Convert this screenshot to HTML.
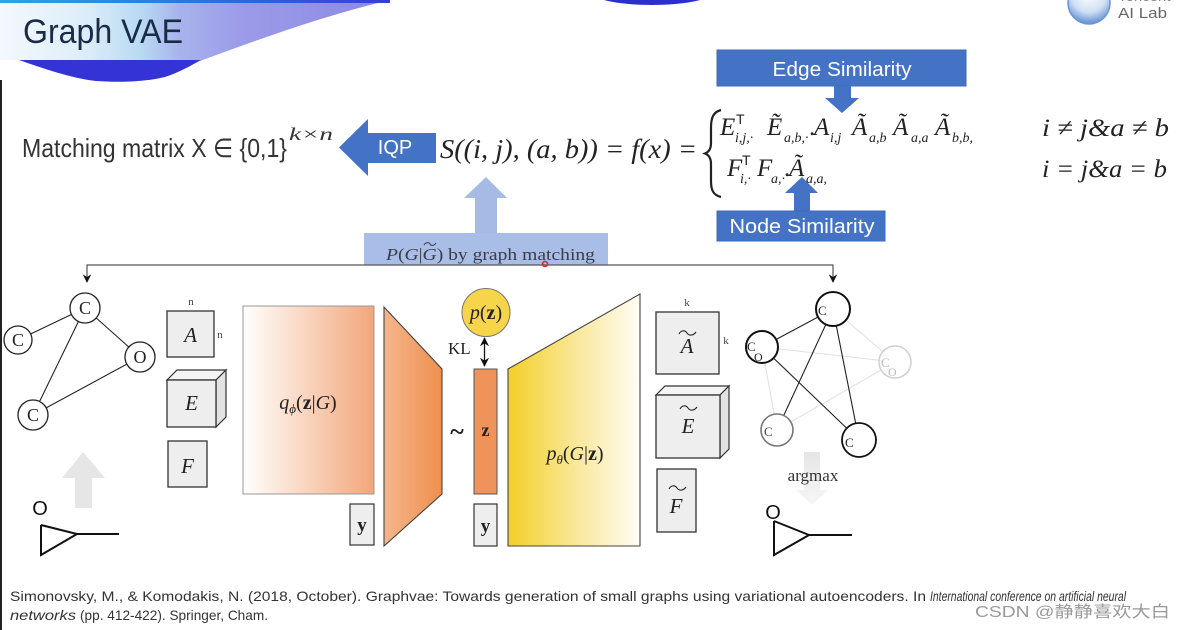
<!DOCTYPE html>
<html>
<head>
<meta charset="utf-8">
<style>
  html,body{margin:0;padding:0;background:#fff;}
  body{width:1182px;height:630px;overflow:hidden;}
  svg{display:block;}
  .serif{font-family:"Liberation Serif",serif;}
  .it{font-family:"Liberation Serif",serif;font-style:italic;}
  .sans{font-family:"Liberation Sans",sans-serif;}
</style>
</head>
<body>
<svg width="1182" height="630" viewBox="0 0 1182 630" xmlns="http://www.w3.org/2000/svg">
  <defs>
    <linearGradient id="band" x1="0" y1="0" x2="390" y2="0" gradientUnits="userSpaceOnUse">
      <stop offset="0" stop-color="#f3f9fd"/>
      <stop offset="0.22" stop-color="#dcedf9"/>
      <stop offset="0.36" stop-color="#b9daf4"/>
      <stop offset="0.46" stop-color="#a7b3ec"/>
      <stop offset="0.62" stop-color="#9b9be8"/>
      <stop offset="1" stop-color="#8c88e4"/>
    </linearGradient>
    <linearGradient id="strip" x1="0" y1="0" x2="390" y2="0" gradientUnits="userSpaceOnUse">
      <stop offset="0" stop-color="#2aa6e4"/>
      <stop offset="1" stop-color="#3340d0"/>
    </linearGradient>
    <radialGradient id="logo" cx="0.5" cy="0.3" r="0.7">
      <stop offset="0" stop-color="#ffffff"/>
      <stop offset="0.6" stop-color="#cfe0f4"/>
      <stop offset="1" stop-color="#5f8fd2"/>
    </radialGradient>
    <linearGradient id="qgrad" x1="0" y1="0" x2="1" y2="0">
      <stop offset="0" stop-color="#ffffff"/>
      <stop offset="0.35" stop-color="#fbe0cf"/>
      <stop offset="1" stop-color="#f2a67b"/>
    </linearGradient>
    <linearGradient id="encgrad" x1="0" y1="0" x2="1" y2="0">
      <stop offset="0" stop-color="#f5b68c"/>
      <stop offset="1" stop-color="#ef8f4e"/>
    </linearGradient>
    <linearGradient id="decgrad" x1="0" y1="0" x2="1" y2="0">
      <stop offset="0" stop-color="#f4cf27"/>
      <stop offset="0.5" stop-color="#f9e796"/>
      <stop offset="1" stop-color="#fffdf6"/>
    </linearGradient>
    <linearGradient id="downfade" x1="0" y1="0" x2="0" y2="1">
      <stop offset="0" stop-color="#e6e6e6"/>
      <stop offset="1" stop-color="#f6f6f6"/>
    </linearGradient>
    <marker id="ah" viewBox="0 0 10 10" refX="9" refY="5" markerWidth="7" markerHeight="7" orient="auto-start-reverse">
      <path d="M0,0 L10,5 L0,10 L3,5 Z" fill="#111"/>
    </marker>
  </defs>

  <!-- Header -->
  <path d="M0,0 H390 C330,14 262,38 200,61 L200,60 H0 Z" fill="url(#band)"/>
  <rect x="0" y="0" width="390" height="3" fill="url(#strip)"/>
  <path d="M19,60 H201 C190,66 180,72 165,77 C140,83 112,82 96,81 C70,78 42,68 19,60 Z" fill="#3434d6"/>
  <ellipse cx="652" cy="-6" rx="57" ry="11" fill="#2b30cc"/>
  <text x="23" y="43" class="sans" font-size="34" fill="#1c2b45" textLength="160" lengthAdjust="spacingAndGlyphs">Graph VAE</text>

  <!-- Logo -->
  <circle cx="1089" cy="3" r="21" fill="url(#logo)" stroke="#6d95d4" stroke-width="1.5"/>
  <text x="1118" y="1" class="sans" font-size="15" fill="#888">Tencent</text>
  <text x="1118" y="18" class="sans" font-size="15" fill="#666" textLength="49" lengthAdjust="spacingAndGlyphs">AI Lab</text>

  <!-- left border line -->
  <rect x="0" y="80" width="2" height="550" fill="#222"/>

  <!-- Edge Similarity -->
  <rect x="717" y="50" width="249" height="36" fill="#4472c4" stroke="#3d68b6" stroke-width="1"/>
  <text x="842" y="76" class="sans" font-size="20" fill="#fff" text-anchor="middle" textLength="139" lengthAdjust="spacingAndGlyphs">Edge Similarity</text>

  <!-- Matching matrix -->
  <text x="22" y="157" class="sans" font-size="26" fill="#333" textLength="265" lengthAdjust="spacingAndGlyphs">Matching matrix X ∈ {0,1}</text>
  <text x="289" y="140" class="it" font-size="18" fill="#333" textLength="44" lengthAdjust="spacingAndGlyphs">k×n</text>

  <!-- IQP arrow -->
  <polygon points="339,147.5 368,119 368,133 436,133 436,163 368,163 368,176" fill="#4472c4"/>
  <text x="395" y="154" class="sans" font-size="20" fill="#fff" text-anchor="middle">IQP</text>

  <!-- S formula -->
  <text x="440" y="158" class="it" font-size="27" fill="#222" textLength="257" lengthAdjust="spacingAndGlyphs">S((i, j), (a, b)) = f(x) =</text>

  <!-- brace -->
  <path d="M721,110 C713,112 711,118 711,128 L711,143 C711,149 709,152 705,153.5 C709,155 711,158 711,164 L711,181 C711,190 713,195 721,197" fill="none" stroke="#222" stroke-width="2.2"/>

  <!-- Line 1 -->
  <g class="it" fill="#222">
    <text x="720" y="135" font-size="25">E</text>
    <text x="736" y="124" class="sans" font-size="14" font-style="normal">T</text>
    <text x="735" y="142" font-size="14">i,j,·</text>
    <text x="767" y="135" font-size="25">Ẽ</text>
    <text x="784" y="142" font-size="14">a,b,·</text>
    <text x="809" y="135" font-size="25" font-style="normal">.</text>
    <text x="814" y="135" font-size="25">A</text>
    <text x="830" y="142" font-size="14">i,j</text>
    <text x="852" y="135" font-size="25">Ã</text>
    <text x="869" y="142" font-size="14">a,b</text>
    <text x="893" y="135" font-size="25">Ã</text>
    <text x="911" y="142" font-size="14">a,a</text>
    <text x="935" y="135" font-size="25">Ã</text>
    <text x="952" y="142" font-size="14">b,b,</text>
  </g>
  <!-- Line 2 -->
  <g class="it" fill="#222">
    <text x="727" y="176" font-size="25">F</text>
    <text x="742" y="165" class="sans" font-size="14" font-style="normal">T</text>
    <text x="740" y="183" font-size="14">i,·</text>
    <text x="757" y="176" font-size="25">F</text>
    <text x="771" y="183" font-size="14">a,·</text>
    <text x="784" y="176" font-size="25" font-style="normal">.</text>
    <text x="789" y="176" font-size="25">Ã</text>
    <text x="806" y="183" font-size="14">a,a,</text>
  </g>
  <!-- Conditions -->
  <text x="1042" y="136" class="it" font-size="25" fill="#222" textLength="127" lengthAdjust="spacingAndGlyphs">i ≠ j&amp;a ≠ b</text>
  <text x="1042" y="177" class="it" font-size="25" fill="#222" textLength="125" lengthAdjust="spacingAndGlyphs">i = j&amp;a = b</text>

  <!-- Edge arrow -->
  <polygon points="842,113 859,98 851,98 851,86 834,86 834,98 825,98" fill="#4472c4"/>

  <!-- Node Similarity -->
  <polygon points="802,177 818,193 810,193 810,211 794,211 794,193 785,193" fill="#4472c4"/>
  <rect x="717" y="211" width="168" height="30" fill="#4472c4" stroke="#3d68b6" stroke-width="1"/>
  <text x="802" y="233" class="sans" font-size="20" fill="#fff" text-anchor="middle" textLength="145" lengthAdjust="spacingAndGlyphs">Node Similarity</text>

  <!-- Light blue up arrow & box -->
  <polygon points="486,177 507,198 497,198 497,233 475,233 475,198 464,198" fill="#a6bbe4"/>
  <rect x="364" y="233" width="244" height="32" fill="#a8bee6"/>
  <text x="386" y="260" class="serif" font-size="17" fill="#3c3c48" textLength="209" lengthAdjust="spacingAndGlyphs"><tspan font-style="italic">P</tspan>(<tspan font-style="italic">G</tspan>|<tspan font-style="italic">G</tspan>) by graph matching</text>
  <path d="M424,245 C426,242 429,242 430,244 C431,246 434,246 436,243" fill="none" stroke="#3c3c48" stroke-width="1"/>

  <!-- connector -->
  <polyline points="87,282 87,265 833,265 833,282" fill="none" stroke="#555" stroke-width="1.2" marker-start="url(#ah)" marker-end="url(#ah)"/>
  <!-- small red dot -->
  <circle cx="545" cy="264" r="2.5" fill="none" stroke="#e0202a" stroke-width="1.5"/>

  <!-- Left graph -->
  <g stroke="#222" stroke-width="1.1">
    <line x1="85" y1="308" x2="18" y2="340"/>
    <line x1="85" y1="308" x2="140" y2="357"/>
    <line x1="85" y1="308" x2="33" y2="415"/>
    <line x1="140" y1="357" x2="33" y2="415"/>
  </g>
  <g fill="#fff" stroke="#222" stroke-width="1.3">
    <circle cx="85" cy="308" r="15"/>
    <circle cx="18" cy="340" r="14"/>
    <circle cx="140" cy="357" r="15"/>
    <circle cx="33" cy="415" r="15"/>
  </g>
  <g class="serif" font-size="18" fill="#222" text-anchor="middle">
    <text x="85" y="314">C</text>
    <text x="18" y="346">C</text>
    <text x="140" y="363">O</text>
    <text x="33" y="421">C</text>
  </g>

  <!-- left gray up arrow -->
  <polygon points="83,452 105,478 92,478 92,508 75,508 75,478 62,478" fill="#e6e6e6"/>
  <!-- left molecule -->
  <text x="40" y="515" class="sans" font-size="20" fill="#111" text-anchor="middle">O</text>
  <g stroke="#111" stroke-width="2" fill="none">
    <polyline points="41,525 41,555 77,534 41,525"/>
    <line x1="77" y1="534" x2="119" y2="534"/>
  </g>

  <!-- Matrices left -->
  <text x="191" y="305" class="serif" font-size="11" fill="#444" text-anchor="middle">n</text>
  <text x="220" y="338" class="serif" font-size="11" fill="#444" text-anchor="middle">n</text>
  <rect x="167" y="311" width="47" height="46" fill="#eeeeee" stroke="#333" stroke-width="1.3"/>
  <text x="190.5" y="342" class="it" font-size="21" fill="#222" text-anchor="middle">A</text>

  <polygon points="167,380 177,370 226,370 216,380" fill="#f5f5f5" stroke="#333" stroke-width="1.2"/>
  <polygon points="216,380 226,370 226,417 216,427" fill="#e2e2e2" stroke="#333" stroke-width="1.2"/>
  <rect x="167" y="380" width="49" height="47" fill="#eeeeee" stroke="#333" stroke-width="1.3"/>
  <text x="191.5" y="410" class="it" font-size="21" fill="#222" text-anchor="middle">E</text>

  <rect x="168" y="441" width="39" height="46" fill="#eeeeee" stroke="#333" stroke-width="1.3"/>
  <text x="187.5" y="473" class="it" font-size="21" fill="#222" text-anchor="middle">F</text>

  <!-- q box -->
  <rect x="243" y="306" width="131" height="188" fill="url(#qgrad)" stroke="#999" stroke-width="1"/>
  <text x="308" y="409" class="serif" font-size="20" fill="#222" text-anchor="middle"><tspan font-style="italic">q</tspan><tspan font-size="13" font-style="italic" dy="4">ϕ</tspan><tspan dy="-4">(</tspan><tspan font-weight="bold">z</tspan>|<tspan font-style="italic">G</tspan>)</text>
  <rect x="350" y="504" width="24" height="41" fill="#eeeeee" stroke="#333" stroke-width="1.2"/>
  <text x="362" y="531" class="serif" font-size="19" font-weight="bold" fill="#222" text-anchor="middle">y</text>

  <!-- encoder trapezoid -->
  <polygon points="384,307 442,369 442,494 384,546" fill="url(#encgrad)" stroke="#444" stroke-width="1.1"/>

  <!-- p(z) -->
  <circle cx="486" cy="312.5" r="24" fill="#f7d54a" stroke="#777" stroke-width="1"/>
  <text x="486" y="319" class="serif" font-size="20" fill="#222" text-anchor="middle"><tspan font-style="italic">p</tspan>(<tspan font-weight="bold">z</tspan>)</text>
  <text x="448" y="354" class="serif" font-size="17" fill="#222">KL</text>
  <line x1="484.5" y1="338" x2="484.5" y2="366" stroke="#111" stroke-width="1.3" marker-start="url(#ah)" marker-end="url(#ah)"/>

  <text x="457" y="440" class="serif" font-size="26" font-weight="bold" fill="#222" text-anchor="middle">~</text>
  <rect x="474" y="369" width="23" height="125" fill="#f0935a" stroke="#555" stroke-width="1"/>
  <text x="485.5" y="436" class="serif" font-size="18" font-weight="bold" fill="#222" text-anchor="middle">z</text>
  <rect x="474" y="504" width="23" height="42" fill="#eeeeee" stroke="#333" stroke-width="1.2"/>
  <text x="485.5" y="532" class="serif" font-size="19" font-weight="bold" fill="#222" text-anchor="middle">y</text>

  <!-- decoder trapezoid -->
  <polygon points="508,369 640,294 640,546 508,546" fill="url(#decgrad)" stroke="#444" stroke-width="1.1"/>
  <text x="575" y="460" class="serif" font-size="20" fill="#222" text-anchor="middle"><tspan font-style="italic">p</tspan><tspan font-size="13" font-style="italic" dy="4">θ</tspan><tspan dy="-4">(</tspan><tspan font-style="italic">G</tspan>|<tspan font-weight="bold">z</tspan>)</text>

  <!-- right matrices -->
  <text x="687" y="306" class="serif" font-size="11" fill="#444" text-anchor="middle">k</text>
  <text x="726" y="344" class="serif" font-size="11" fill="#444" text-anchor="middle">k</text>
  <rect x="656" y="312" width="63" height="62" fill="#eeeeee" stroke="#333" stroke-width="1.3"/>
  <text x="687" y="353" class="it" font-size="21" fill="#222" text-anchor="middle">A</text>
  <path d="M679,334 C681,330 685,330 687,333 C689,336 693,336 696,332" fill="none" stroke="#222" stroke-width="1.1"/>

  <polygon points="656,395 665,386 729,386 720,395" fill="#f5f5f5" stroke="#333" stroke-width="1.2"/>
  <polygon points="720,395 729,386 729,449 720,458" fill="#e2e2e2" stroke="#333" stroke-width="1.2"/>
  <rect x="656" y="395" width="64" height="63" fill="#eeeeee" stroke="#333" stroke-width="1.3"/>
  <text x="688" y="433" class="it" font-size="21" fill="#222" text-anchor="middle">E</text>
  <path d="M680,409 C682,405 686,405 688,408 C690,411 694,411 697,407" fill="none" stroke="#222" stroke-width="1.1"/>

  <rect x="657" y="469" width="39" height="63" fill="#eeeeee" stroke="#333" stroke-width="1.3"/>
  <text x="676" y="513" class="it" font-size="21" fill="#222" text-anchor="middle">F</text>
  <path d="M669,489 C671,485 675,485 677,488 C679,491 683,491 686,487" fill="none" stroke="#222" stroke-width="1.1"/>

  <!-- right graph faded edges -->
  <g stroke="#e2e2e2" stroke-width="1.1">
    <line x1="833" y1="309" x2="895" y2="362"/>
    <line x1="762" y1="347" x2="777" y2="430"/>
    <line x1="895" y1="362" x2="777" y2="430"/>
    <line x1="762" y1="347" x2="895" y2="362"/>
  </g>
  <g stroke="#222" stroke-width="1.1">
    <line x1="833" y1="309" x2="762" y2="347"/>
    <line x1="833" y1="309" x2="777" y2="430"/>
    <line x1="833" y1="309" x2="859" y2="440"/>
    <line x1="762" y1="347" x2="859" y2="440"/>
  </g>
  <circle cx="895" cy="362" r="16" fill="#fff" stroke="#d0d0d0" stroke-width="1.5"/>
  <circle cx="777" cy="430" r="16" fill="#fff" stroke="#777" stroke-width="1.6"/>
  <circle cx="859" cy="440" r="17" fill="#fff" stroke="#111" stroke-width="1.8"/>
  <circle cx="762" cy="347" r="16" fill="#fff" stroke="#111" stroke-width="2"/>
  <circle cx="833" cy="309" r="17" fill="#fff" stroke="#111" stroke-width="2"/>
  <g class="serif" fill="#222">
    <text x="818" y="315" font-size="13">C</text>
    <text x="747" y="351" font-size="13">C</text>
    <text x="754" y="361" font-size="12">O</text>
    <text x="881" y="367" font-size="13" fill="#bbb">C</text>
    <text x="888" y="376" font-size="12" fill="#bbb">O</text>
    <text x="764" y="436" font-size="13" fill="#444">C</text>
    <text x="845" y="447" font-size="13">C</text>
  </g>

  <!-- right down arrow faded + argmax -->
  <polygon points="804,452 820,452 820,490 828,490 812,505 796,490 804,490" fill="url(#downfade)"/>
  <text x="813" y="481" class="serif" font-size="17" fill="#333" text-anchor="middle">argmax</text>
  <!-- right molecule -->
  <text x="773" y="519" class="sans" font-size="20" fill="#111" text-anchor="middle">O</text>
  <g stroke="#111" stroke-width="2" fill="none">
    <polyline points="774,521 774,555 809,535 774,521"/>
    <line x1="809" y1="535" x2="852" y2="535"/>
  </g>

  <!-- Footer -->
  <text x="10" y="601" class="sans" font-size="14" fill="#333" textLength="916" lengthAdjust="spacingAndGlyphs">Simonovsky, M., &amp; Komodakis, N. (2018, October). Graphvae: Towards generation of small graphs using variational autoencoders. In</text>
  <text x="930" y="601" class="sans" font-size="14" font-style="italic" fill="#333" textLength="196" lengthAdjust="spacingAndGlyphs">International conference on artificial neural</text>
  <text x="10" y="620" class="sans" font-size="14" font-style="italic" fill="#333" textLength="66" lengthAdjust="spacingAndGlyphs">networks</text>
  <text x="80" y="620" class="sans" font-size="14" fill="#333" textLength="188" lengthAdjust="spacingAndGlyphs">(pp. 412-422). Springer, Cham.</text>
  <text x="975" y="617" font-family="'Liberation Sans','Noto Sans CJK SC',sans-serif" font-size="16" fill="#9a9a9a" textLength="195" lengthAdjust="spacingAndGlyphs">CSDN @静静喜欢大白</text>
</svg>
</body>
</html>
